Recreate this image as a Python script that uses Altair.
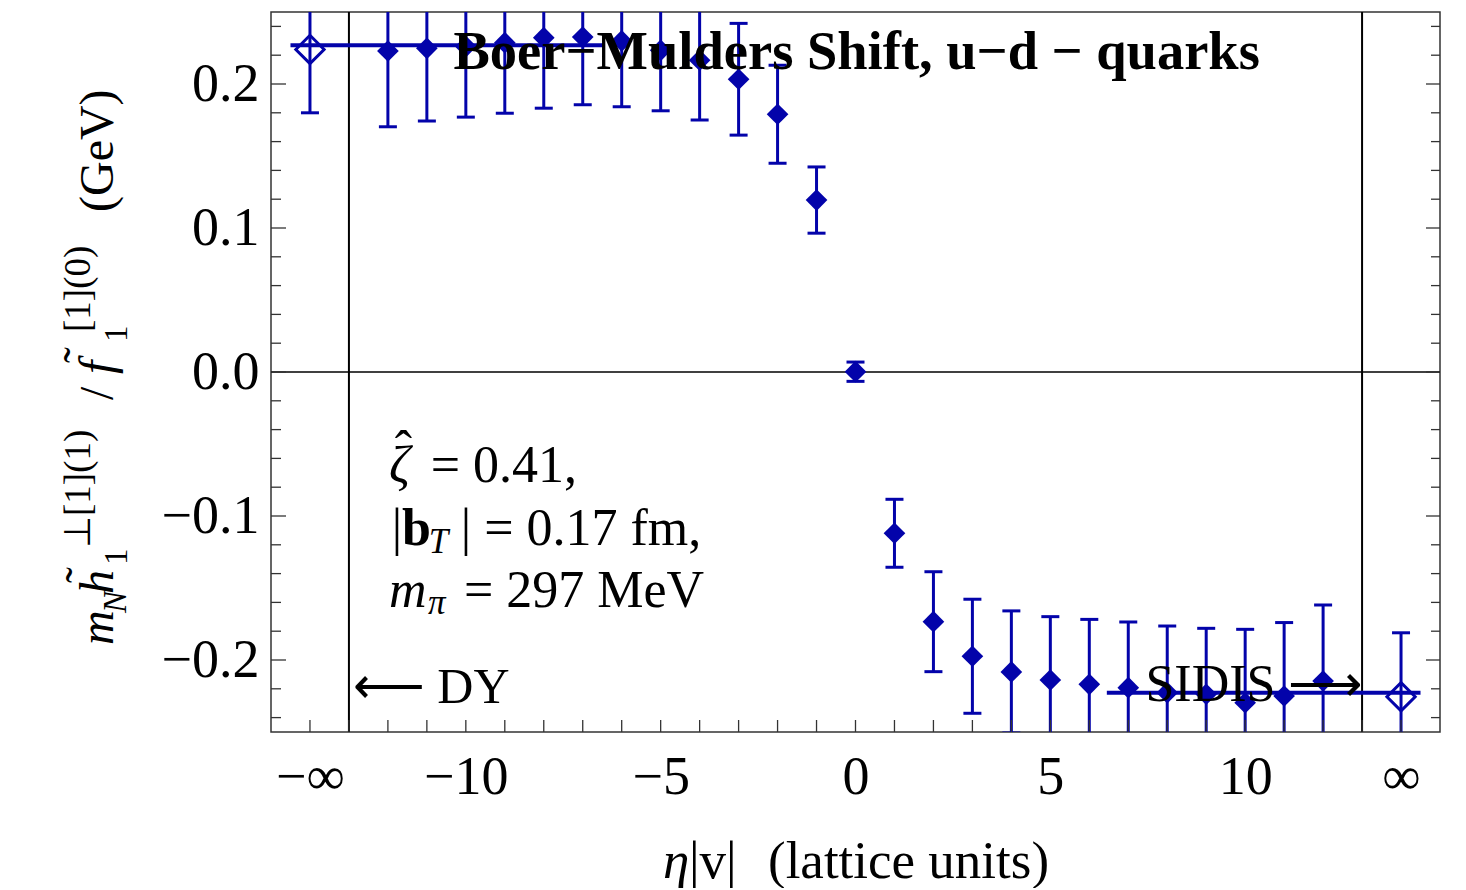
import altair as alt
import pandas as pd

SERIF = "Liberation Serif"
BLUE = "#0303aa"

# ---- lattice data (filled diamonds) ----
eta = list(range(-12, 13))
ratio = [0.2229, 0.2248, 0.226, 0.2287, 0.2322, 0.2326, 0.2299, 0.2234, 0.2165, 0.2033, 0.179, 0.1194,
         0.0002,
         -0.112, -0.1734, -0.1974, -0.2083, -0.2139, -0.2169, -0.2192, -0.2227, -0.2238, -0.2297, -0.225, -0.2146]
err = [0.0526, 0.0505, 0.049, 0.049, 0.049, 0.047, 0.0457, 0.042, 0.0415, 0.0388, 0.034, 0.023,
       0.0067,
       0.0236, 0.0347, 0.0396, 0.0424, 0.044, 0.0451, 0.0456, 0.0463, 0.0458, 0.051, 0.051, 0.0528]

# ---- extrapolated values (open diamonds at +/- infinity) ----
ext_x = [-14, 14]
ext_y = [0.224, -0.2255]
ext_err = [0.044, 0.0444]

# ---- plateau fit lines ----
fit_x0 = [-14.5, 6.45]
fit_x1 = [-6.45, 14.5]
fit_y = [0.2269, -0.2227]

# ---- reference lines ----
vlines = [-13, 13]
hline = [0.0]

# ---- ticks ----
x_ticks = list(range(-14, 15))
x_label_vals = [-14, -10, -5, 0, 5, 10, 14]
y_major = [-0.2, -0.1, 0.0, 0.1, 0.2]
y_minor = [-0.24, -0.22, -0.18, -0.16, -0.14, -0.12, -0.08, -0.06, -0.04, -0.02,
           0.02, 0.04, 0.06, 0.08, 0.12, 0.14, 0.16, 0.18, 0.22, 0.24]

W, H = 1169, 720
FS = 52

xs = alt.Scale(domain=[-15, 15], nice=False, zero=False)
ys = alt.Scale(domain=[-0.25, 0.25], nice=False, zero=False)
xax = alt.Axis(values=x_label_vals, title=None, grid=False, domain=False, ticks=False, tickSize=0,
               labelExpr="datum.value == -14 ? '\u2212\u221e' : datum.value == 14 ? '\u221e' : format(datum.value, 'd')",
               labelFont=SERIF, labelFontSize=54, labelColor="black", labelPadding=18, labelFlush=False)
yax = alt.Axis(values=y_major, title=None, grid=False, domain=False, ticks=False, tickSize=0, format=".1f",
               labelFont=SERIF, labelFontSize=54, labelColor="black", labelPadding=12)


def X(f):
    return alt.X(f, scale=xs, axis=xax)


def Y(f):
    return alt.Y(f, scale=ys, axis=yax)


pts = pd.DataFrame({"x": eta, "y": ratio, "lo": [r - e for r, e in zip(ratio, err)],
                    "hi": [r + e for r, e in zip(ratio, err)]})
ext = pd.DataFrame({"x": ext_x, "y": ext_y, "lo": [r - e for r, e in zip(ext_y, ext_err)],
                    "hi": [r + e for r, e in zip(ext_y, ext_err)]})
fit = pd.DataFrame({"x": fit_x0, "x2": fit_x1, "y": fit_y})

layers = []

# reference lines
layers.append(alt.Chart(pd.DataFrame({"x": vlines})).mark_rule(color="black", strokeWidth=2)
              .encode(x=X("x:Q")))
layers.append(alt.Chart(pd.DataFrame({"y": hline})).mark_rule(color="black", strokeWidth=1.3)
              .encode(y=Y("y:Q")))

# fit lines
layers.append(alt.Chart(fit).mark_rule(color=BLUE, strokeWidth=4, clip=True)
              .encode(x=X("x:Q"), x2="x2:Q", y=Y("y:Q")))

# error bars and caps
for df in (pts, ext):
    layers.append(alt.Chart(df).mark_rule(color=BLUE, strokeWidth=3, clip=True)
                  .encode(x=X("x:Q"), y=Y("lo:Q"), y2="hi:Q"))
    for f in ("lo", "hi"):
        layers.append(alt.Chart(df).mark_tick(color=BLUE, orient="horizontal", size=18, thickness=3,
                                               clip=True, opacity=1)
                      .encode(x=X("x:Q"), y=Y(f + ":Q")))

# points
layers.append(alt.Chart(pts).mark_point(shape="diamond", filled=True, size=470, color=BLUE, opacity=1,
                                        strokeWidth=0, clip=True)
              .encode(x=X("x:Q"), y=Y("y:Q")))
layers.append(alt.Chart(ext).mark_point(shape="diamond", filled=False, size=800, color=BLUE, opacity=1,
                                        strokeWidth=3, clip=True)
              .encode(x=X("x:Q"), y=Y("y:Q")))


# ticks (inward)
def tick_layer(vals, axis, a, b):
    df = pd.DataFrame({"v": vals})
    if axis == "x":
        return alt.Chart(df).mark_rule(color="#333", strokeWidth=1.3).encode(
            x=X("v:Q"), y=alt.value(a), y2=alt.value(b))
    return alt.Chart(df).mark_rule(color="#333", strokeWidth=1.3).encode(
        y=Y("v:Q"), x=alt.value(a), x2=alt.value(b))


layers.append(tick_layer(x_ticks, "x", H, H - 12))
layers.append(tick_layer(y_major, "y", 0, 15))
layers.append(tick_layer(y_minor, "y", 0, 10))
layers.append(tick_layer(y_major, "y", W, W - 14))
layers.append(tick_layer(y_minor, "y", W, W - 9))


# text helpers
def dtxt(s, x, y, size=FS, style="normal", weight="normal", align="left", dy=0):
    return alt.Chart(pd.DataFrame({"x": [x], "y": [y], "t": [s]})).mark_text(
        font=SERIF, fontSize=size, fontStyle=style, fontWeight=weight, align=align, dy=dy,
        baseline="alphabetic", color="black").encode(x=X("x:Q"), y=Y("y:Q"), text="t:N")


def ptxt(s, x, y, size=FS, style="normal", weight="normal", angle=0, align="left"):
    return alt.Chart(pd.DataFrame({"t": [s]})).mark_text(
        font=SERIF, fontSize=size, fontStyle=style, fontWeight=weight, angle=angle, align=align,
        baseline="alphabetic", color="black").encode(x=alt.value(x), y=alt.value(y), text="t:N")


# in-plot title
layers.append(dtxt("Boer\u2212Mulders Shift, u\u2212d \u2212 quarks", 0.03, 0.2104, size=54.5, weight="bold",
                   align="center"))
# parameters
layers.append(dtxt("\u03b6", -11.97, -0.0764, style="italic"))
layers.append(dtxt("\u02c6", -11.6, -0.0764, align="center", dy=-15))
layers.append(dtxt("= 0.41,", -10.9, -0.0764))
layers.append(dtxt("|", -11.9, -0.1201))
layers.append(dtxt("b", -11.64, -0.1201, weight="bold"))
layers.append(dtxt("T", -10.95, -0.1257, size=35, style="italic"))
layers.append(dtxt("| = 0.17 fm,", -10.13, -0.1201))
layers.append(dtxt("m", -11.97, -0.1632, style="italic"))
layers.append(dtxt("\u03c0", -10.97, -0.168, size=35, style="italic"))
layers.append(dtxt("= 297 MeV", -10.05, -0.1632))
# DY / SIDIS
layers.append(dtxt("\u27f5 DY", -12.9, -0.2299, size=50))
layers.append(dtxt("SIDIS \u27f6", 7.44, -0.2285, size=52))

# x axis title
layers.append(ptxt("\u03b7", 392, 866, size=53, style="italic"))
layers.append(ptxt("|v|", 418, 866, size=53))
layers.append(ptxt("(lattice units)", 497, 866, size=53))

# y axis title (rotated)
BX = -158
YS = 48
layers.append(ptxt("m", BX, 633, size=YS, style="italic", angle=270))
layers.append(ptxt("N", -145, 601, size=33, style="italic", angle=270))
layers.append(ptxt("h", BX, 582, size=YS, style="italic", angle=270))
layers.append(ptxt("\u02dc", -172, 563, size=YS, angle=270, align="center"))
layers.append(ptxt("1", -144, 553, size=33, angle=270))
layers.append(ptxt("\u22a5[1](1)", -181, 536, size=37, angle=270))
layers.append(ptxt("/", BX, 388, size=YS, angle=270))
layers.append(ptxt("f", BX, 362, size=YS, style="italic", angle=270))
layers.append(ptxt("\u02dc", -174, 343, size=YS, angle=270, align="center"))
layers.append(ptxt("1", -144, 330, size=33, angle=270))
layers.append(ptxt("[1](0)", -181, 320, size=37, angle=270))
layers.append(ptxt("(GeV)", BX, 200, size=YS, angle=270))

chart = alt.layer(*layers).properties(
    width=W, height=H,
    padding={"left": 263, "top": 4, "right": 18, "bottom": 156},
    autosize=alt.AutoSizeParams(type="none"),
).configure_view(stroke="#333", strokeWidth=1.5)

chart.save("out.html", embed_options={"renderer": "svg", "actions": False})
